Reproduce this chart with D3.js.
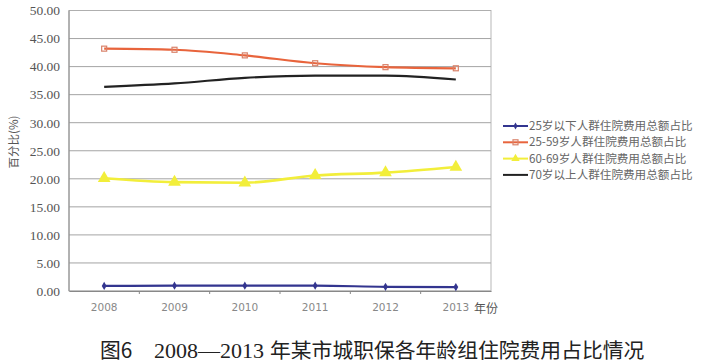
<!DOCTYPE html>
<html><head><meta charset="utf-8">
<script src="https://cdn.jsdelivr.net/npm/d3@7"></script>
<style>body{margin:0;background:#fff;} svg{display:block;}</style>
</head><body>
<script>
const years = ["2008","2009","2010","2011","2012","2013"];
const seriesNames = ["25岁以下人群住院费用总额占比","25-59岁人群住院费用总额占比","60-69岁人群住院费用总额占比","70岁以上人群住院费用总额占比"];
const under25 = [0.9, 0.95, 0.95, 0.95, 0.75, 0.7];
const age25to59 = [43.2, 43.0, 42.0, 40.6, 39.9, 39.7];
const age60to69 = [20.1, 19.4, 19.3, 20.6, 21.1, 22.1];
const over70 = [36.4, 37.0, 38.0, 38.4, 38.4, 37.7];
const yTicks = [0,5,10,15,20,25,30,35,40,45,50];
const colors = ["#33358f","#e8643c","#f2ee3a","#222222"];
const markers = ["diamond","square","triangle","none"];
const allSeries = [under25, age25to59, age60to69, over70];

const W = 707, H = 364;
const svg = d3.select("body").append("svg").attr("width", W).attr("height", H);
const pLeft = 69, pRight = 491, pTop = 10.5, pBottom = 291;

const x = d3.scaleBand().domain(years).range([pLeft, pRight]);
const y = d3.scaleLinear().domain([0,50]).range([pBottom, pTop]);

// gridlines
svg.append("g").selectAll("line").data(yTicks).join("line")
  .attr("x1", pLeft).attr("x2", pRight)
  .attr("y1", d => y(d)).attr("y2", d => y(d))
  .attr("stroke", "#9a9a9a").attr("stroke-width", 0.9);
// plot border
svg.append("rect").attr("x", pLeft).attr("y", pTop).attr("width", pRight-pLeft).attr("height", pBottom-pTop)
  .attr("fill", "none").attr("stroke", "#b0b0b0").attr("stroke-width", 0.9);
svg.append("line").attr("x1", pLeft).attr("x2", pLeft).attr("y1", pTop).attr("y2", pBottom).attr("stroke","#888");

// y labels
const yAxis = d3.axisLeft(y).tickValues(yTicks).tickFormat(d3.format(".2f")).tickSize(0).tickPadding(9);
const ya = svg.append("g").attr("transform", `translate(${pLeft},0)`).call(yAxis)
  .attr("font-family", null).attr("font-size", null);
ya.select(".domain").remove();
ya.selectAll("text").style("font-family", "'Liberation Serif', 'DejaVu Serif', serif").style("font-size", "13.5px").attr("fill", "#555");

// x axis
const xa = svg.append("g").attr("transform", `translate(0,${pBottom})`)
  .call(d3.axisBottom(x).tickSize(0).tickPadding(13));
xa.select(".domain").attr("stroke", "#888");
xa.selectAll("text").style("font-family", "'DejaVu Sans', sans-serif").style("font-size", "10.5px").attr("fill", "#888");
// boundary ticks
svg.append("g").selectAll("line").data(years.slice(1)).join("line")
  .attr("x1", d => x(d)).attr("x2", d => x(d)).attr("y1", pBottom).attr("y2", pBottom+3)
  .attr("stroke", "#888");

svg.append("text").attr("x", 474).attr("y", 313).text("年份")
  .attr("font-family", "'Noto Sans CJK SC', sans-serif").attr("font-size", 12).attr("fill", "#555");

svg.append("text").attr("transform", "translate(18,142) rotate(-90)").attr("text-anchor", "middle")
  .text("百分比(%)").attr("font-family", "'Noto Sans CJK SC', sans-serif").attr("font-size", 11.5).attr("fill", "#555");

const cx = d => x(d) + x.bandwidth()/2;
const line = d3.line().x((d,i) => cx(years[i])).y(d => y(d)).curve(d3.curveMonotoneX);

function drawMarker(g, type, color, px, py, size) {
  if (type === "diamond") g.append("path").attr("d", d3.symbol(d3.symbolDiamond, size)()).attr("transform", `translate(${px},${py})`).attr("fill", color);
  else if (type === "square") g.append("rect").attr("x", px-2.5).attr("y", py-2.5).attr("width",5).attr("height",5).attr("fill","none").attr("stroke","#d9826a").attr("stroke-width",1.2);
  else if (type === "triangle") g.append("path").attr("d", d3.symbol(d3.symbolTriangle, size)()).attr("transform", `translate(${px},${py})`).attr("fill", color);
}

allSeries.forEach((vals, si) => {
  const g = svg.append("g");
  g.append("path").datum(vals).attr("d", line).attr("fill", "none")
    .attr("stroke", colors[si]).attr("stroke-width", si===2 ? 2.6 : 2.2);
  vals.forEach((v, i) => drawMarker(g, markers[si], colors[si], cx(years[i]), y(v), si===2 ? 70 : 20));
});

// legend
const lg = svg.append("g");
seriesNames.forEach((n, i) => {
  const ly = 126 + i*16.3;
  lg.append("line").attr("x1", 503).attr("x2", 528).attr("y1", ly).attr("y2", ly).attr("stroke", colors[i]).attr("stroke-width", 2);
  drawMarker(lg, markers[i], colors[i], 515.5, ly, i===2 ? 30 : 14);
  lg.append("text").attr("x", 529).attr("y", ly+4).text(n)
    .attr("font-family", "'Noto Sans CJK SC', sans-serif").attr("font-size", 11.6).attr("fill", "#666");
});

// caption
const cap = svg.append("text").attr("y", 358)
  .attr("font-family", "'Noto Sans CJK SC', sans-serif").attr("font-size", 20.8).attr("fill", "#222");
cap.append("tspan").attr("x", 100).text("图6");
cap.append("tspan").attr("x", 154).attr("font-family", "'Liberation Serif', serif").attr("font-size", 22).text("2008—2013");
cap.append("tspan").attr("x", 270).text("年某市城职保各年龄组住院费用占比情况");
</script>
</body></html>
